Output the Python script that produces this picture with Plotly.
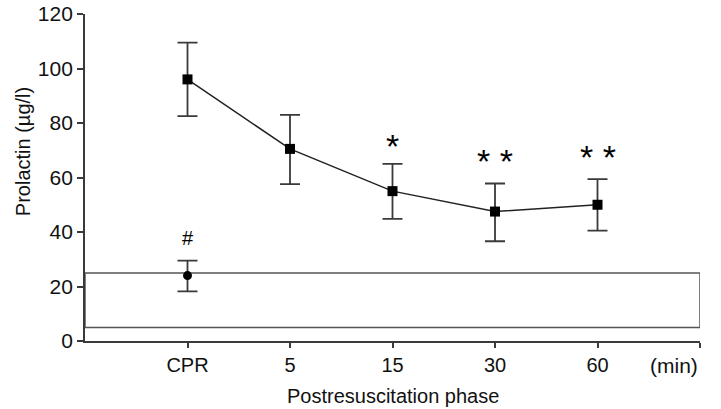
import plotly.graph_objects as go

# Time points of the postresuscitation phase
phases = ["CPR", "5", "15", "30", "60"]
phase_pos = [1, 2, 3, 4, 5]

# Prolactin (µg/l): mean and upper / lower error-bar limits
prolactin_mean = [96.0, 70.5, 55.0, 47.5, 50.0]
prolactin_upper = [109.5, 83.0, 65.0, 57.8, 59.4]
prolactin_lower = [82.5, 57.6, 44.8, 36.6, 40.5]

# Control value at CPR
control_mean = [24.0]
control_upper = [29.5]
control_lower = [18.2]

# Normal range band
normal_low, normal_high = 5, 25

# Significance markers
sig_pos = [3, 4, 5]
sig_text = ["*", "* *", "* *"]
sig_y = [64.0, 58.2, 59.7]

FONT = "Arial"
INK = "#222222"
BAR = "#3a3a3a"
TXT = "#111111"

fig = go.Figure()

fig.add_trace(go.Scatter(
    x=phase_pos, y=prolactin_mean, mode="lines+markers",
    line=dict(color=INK, width=1.5),
    marker=dict(symbol="square", size=10, color="#000000"),
    error_y=dict(type="data", symmetric=False,
                 array=[u - m for u, m in zip(prolactin_upper, prolactin_mean)],
                 arrayminus=[m - l for m, l in zip(prolactin_mean, prolactin_lower)],
                 color=BAR, thickness=1.8, width=10),
    showlegend=False, hoverinfo="skip",
))

fig.add_trace(go.Scatter(
    x=[1], y=control_mean, mode="markers",
    marker=dict(symbol="circle", size=9, color="#000000"),
    error_y=dict(type="data", symmetric=False,
                 array=[control_upper[0] - control_mean[0]],
                 arrayminus=[control_mean[0] - control_lower[0]],
                 color=BAR, thickness=1.8, width=10),
    showlegend=False, hoverinfo="skip",
))

# Normal range rectangle
fig.add_shape(type="rect", xref="x", yref="y", x0=0, x1=6,
              y0=normal_low, y1=normal_high,
              line=dict(color="#555555", width=1.5), fillcolor="rgba(0,0,0,0)",
              layer="below")

for xp, t, yp in zip(sig_pos, sig_text, sig_y):
    fig.add_annotation(x=xp, y=yp, text=t, showarrow=False, yanchor="bottom",
                       font=dict(family=FONT, size=34, color="#000000"))

fig.add_annotation(x=1, y=33, text="#", showarrow=False,
                   yanchor="bottom", font=dict(family=FONT, size=20, color="#000000"))

fig.add_annotation(x=6, y=0, yshift=-24, text="(min)", showarrow=False,
                   xanchor="right", yanchor="middle",
                   font=dict(family=FONT, size=21, color=TXT))

# Axis titles
fig.add_annotation(xref="paper", yref="paper", x=0.5, y=-0.1695,
                   text="Postresuscitation phase", showarrow=False,
                   xanchor="center", yanchor="middle",
                   font=dict(family=FONT, size=20, color=TXT))
fig.add_annotation(xref="paper", yref="y", x=-0.1008, y=69.3,
                   text="Prolactin (µg/l)", textangle=-90, showarrow=False,
                   xanchor="center", yanchor="middle",
                   font=dict(family=FONT, size=20, color=TXT))

fig.update_xaxes(
    range=[0, 6], tickvals=phase_pos + [6], ticktext=phases + [""],
    showline=True, linecolor=BAR, linewidth=1.8,
    ticks="outside", ticklen=5, tickwidth=1.5, tickcolor=BAR,
    showgrid=False, zeroline=False, automargin=False,
    tickfont=dict(family=FONT, size=20, color=TXT),
)
fig.update_yaxes(
    range=[0, 120], tickvals=[0, 20, 40, 60, 80, 100, 120],
    showline=True, linecolor=BAR, linewidth=1.8,
    ticks="outside", ticklen=6, tickwidth=1.5, tickcolor=BAR,
    showgrid=False, zeroline=False, automargin=False,
    tickfont=dict(family=FONT, size=21, color=TXT),
)

fig.update_layout(
    width=721, height=409,
    margin=dict(l=85, r=21, t=14, b=68),
    paper_bgcolor="white", plot_bgcolor="white",
)

fig.write_html("out.html")
